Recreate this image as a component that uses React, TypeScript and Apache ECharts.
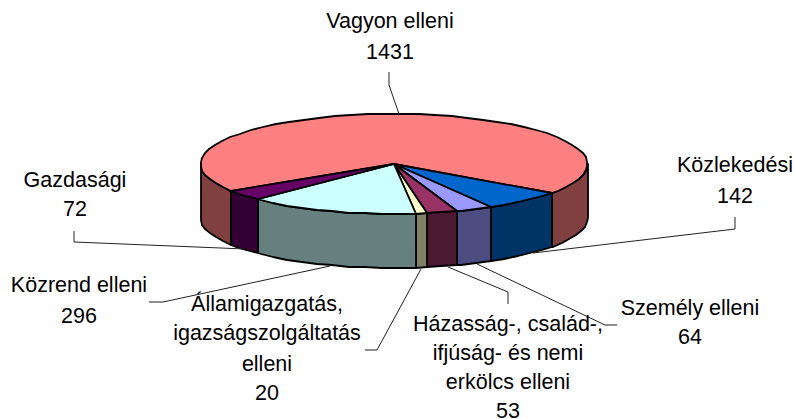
import React, { useEffect, useRef } from "react";
import * as echarts from "echarts";

const categories = [
  "Vagyon elleni",
  "Közlekedési",
  "Személy elleni",
  "Házasság-, család-,\nifjúság- és nemi\nerkölcs elleni",
  "Államigazgatás,\nigazságszolgáltatás\nelleni",
  "Közrend elleni",
  "Gazdasági",
];
const values = [1431, 142, 64, 53, 20, 296, 72];
const topColors = ["#FF8080", "#0066CC", "#9999FF", "#993366", "#FFFFCC", "#CCFFFF", "#660066"];
const sideColors = ["#804040", "#003366", "#4C4C80", "#4C1A33", "#808066", "#668080", "#330033"];

// label layout: centre x, one baseline per line
const labelX = [390, 735, 690, 508, 267, 79, 75];
const labelBaselines = [
  [28, 59],
  [172, 203],
  [315, 344],
  [331, 360, 389, 418],
  [311, 340, 371, 400],
  [292, 323],
  [187, 216],
];
const leaders = [
  [[389, 72], [389, 85], [399, 114]],
  [[735, 217], [735, 229], [533, 253]],
  [[617, 325], [605, 325], [477, 264]],
  [[508, 304], [508, 292], [448, 267]],
  [[365, 350], [377, 350], [421, 269]],
  [[149, 302], [163, 302], [330, 266]],
  [[74, 231], [74, 242], [245, 249]],
];

const CX = 394;
const CY = 164;
const RX = 193.5;
const RY = 50;
const DEPTH = 54;
const STEP = 5;
const FONT = '"Liberation Sans", Arial, sans-serif';

const total = values.reduce((a, b) => a + b, 0);
const START_DEG = 35.2 - (values[0] / total) * 360; // first slice ends 35.2 deg past the right-most point
const point = (deg: number, dy = 0) => {
  const r = (deg * Math.PI) / 180;
  return [Math.round(CX + RX * Math.cos(r)), Math.round(CY + RY * Math.sin(r) + dy)];
};
const arc = (a: number, b: number, dy = 0) => {
  const pts = [];
  for (let d = a; d < b; d += STEP) pts.push(point(d, dy));
  pts.push(point(b, dy));
  return pts;
};

const renderItem = (params: any, api: any) => {
  const i = params.dataIndex;
  const value = api.value(0);
  let before = 0;
  for (let k = 0; k < i; k++) before += values[k];
  const a0 = START_DEG + (before / total) * 360;
  const a1 = a0 + (value / total) * 360;
  const stroke = { stroke: "#000", lineWidth: 1.8, lineJoin: "round" };
  const children: any[] = [];
  // visible wall: front half of the ellipse, 0..180 deg (also checked at +360)
  [0, 360, -360].forEach((off) => {
    const s = Math.max(a0, off);
    const e = Math.min(a1, off + 180);
    if (e > s) {
      children.push({
        type: "polygon",
        shape: { points: [...arc(s, e), ...arc(s, e, DEPTH).reverse()] },
        style: { fill: sideColors[i], ...stroke },
      });
    }
  });
  children.push({
    type: "polygon",
    shape: { points: [[CX, CY], ...arc(a0, a1)] },
    style: { fill: topColors[i], ...stroke, lineJoin: "miter" },
  });
  children.push({
    type: "polyline",
    shape: { points: leaders[i] },
    style: { fill: "none", stroke: "#222", lineWidth: 1 },
  });
  const lines = [...categories[i].split("\n"), String(value)];
  lines.forEach((text, n) => {
    children.push({
      type: "text",
      style: {
        text,
        x: labelX[i],
        y: labelBaselines[i][n] - 7.3,
        fill: "#000",
        font: `21.5px ${FONT}`,
        align: "center",
        verticalAlign: "middle",
      },
    });
  });
  return { type: "group", children };
};

export default function App() {
  const ref = useRef<HTMLDivElement>(null);
  useEffect(() => {
    document.body.style.margin = "0";
    const chart = echarts.init(ref.current!, undefined, { renderer: "svg" });
    chart.setOption({
      animation: false,
      backgroundColor: "#fff",
      series: [
        {
          type: "custom",
          coordinateSystem: "none",
          silent: true,
          renderItem,
          data: values.map((v) => [v]),
        },
      ],
    });
    return () => chart.dispose();
  }, []);
  return <div ref={ref} style={{ width: 795, height: 419, overflow: "hidden" }} />;
}
